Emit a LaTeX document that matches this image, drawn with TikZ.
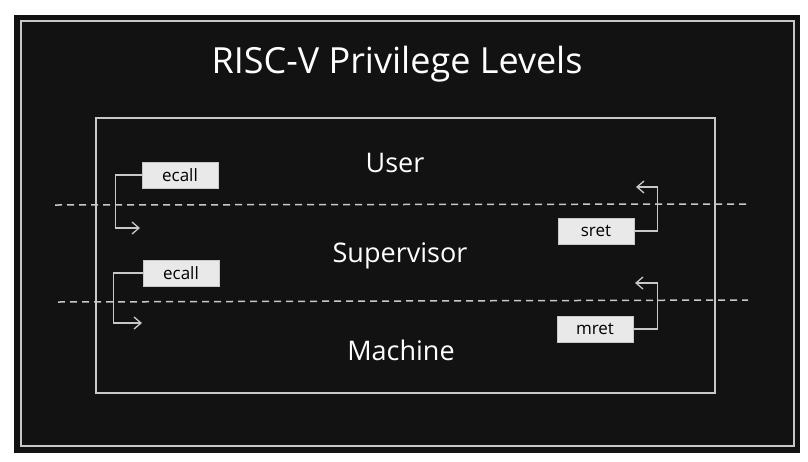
\documentclass[tikz,border=0pt]{standalone}
\usepackage{fontspec}
\setmainfont{Open Sans}
\usetikzlibrary{arrows.meta}
\definecolor{bgdark}{HTML}{121212}
\definecolor{linegray}{HTML}{C8C8C8}
\definecolor{boxfill}{HTML}{E9E9E9}
\tikzset{
  level/.style={text=white, font=\fontsize{27}{31}\selectfont},
  instr/.style={draw=boxfill!70!gray, fill=boxfill, text=black, minimum width=76pt,
    minimum height=26pt, inner sep=0pt, font=\fontsize{17}{19}\selectfont},
  border/.style={draw=linegray, line width=1.5pt},
  sep/.style={draw=linegray, line width=1.5pt, dash pattern=on 7pt off 5pt},
  trap/.style={draw=linegray, line width=1.3pt, -{Straight Barb[length=7pt,width=12pt]}},
}
\begin{document}
\begin{tikzpicture}[x=1pt,y=-1pt]
  \useasboundingbox (0,0) rectangle (808,461);
  \fill[bgdark] (14,15) rectangle (800,453);
  \draw[border] (21,21) rectangle (794,446);
  \draw[border] (96,118) rectangle (715,393);

  \node[level, font=\fontsize{36}{40}\selectfont] (title) at (397,64) {RISC-V Privilege Levels};

  % levels
  \node[level] (user) at (395,163) {User};
  \node[level] (supervisor) at (400,256) {Supervisor};
  \node[level] (machine) at (401,350) {Machine};

  % boundaries between levels
  \draw[sep] (55,205) -- (747,204);
  \draw[sep] (58,302) -- (748,300);

  % instructions
  \node[instr] (ecallA) at (180,175) {ecall};
  \node[instr] (ecallB) at (181,273) {ecall};
  \node[instr] (sret) at (596,231) {sret};
  \node[instr] (mret) at (595,329) {mret};

  \coordinate (ecallAend) at (140,228);
  \coordinate (ecallBend) at (142,323);
  \coordinate (sretend) at (636,187);
  \coordinate (mretend) at (635,283);

  \draw[trap] (ecallA.west) -- ++(-26,0) |- (ecallAend);
  \draw[trap] (ecallB.west) -- ++(-29,0) |- (ecallBend);
  \draw[trap] (sret.east) -- ++(23,0) |- (sretend);
  \draw[trap] (mret.east) -- ++(24,0) |- (mretend);
\end{tikzpicture}
\end{document}
